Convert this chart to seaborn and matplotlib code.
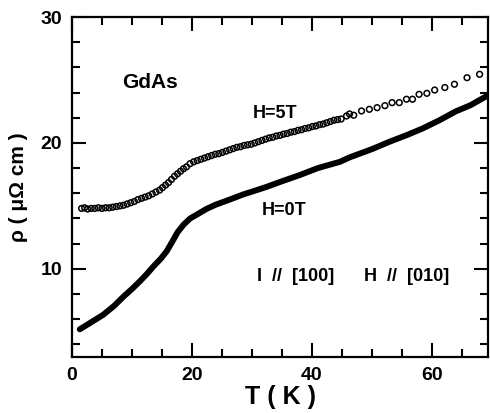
import numpy as np
import pandas as pd
import seaborn as sns
import matplotlib.pyplot as plt
from matplotlib.ticker import MultipleLocator

# H = 0 T curve
t_h0 = [1.3, 3.0, 5.2, 7.0, 8.6, 10.0, 11.3, 12.5, 13.6, 14.8, 15.8, 16.9, 17.6,
        18.6, 19.7, 20.8, 22.4, 24.0, 26.3, 28.5, 30.8, 32.4, 35.0, 38.0, 41.0,
        44.7, 46.3, 50.0, 53.0, 56.0, 58.5, 61.3, 64.0, 66.5, 69.1]
rho_h0 = [5.2, 5.7, 6.35, 7.05, 7.8, 8.4, 9.0, 9.6, 10.2, 10.8, 11.4, 12.3, 12.9,
          13.5, 14.0, 14.3, 14.75, 15.1, 15.5, 15.9, 16.25, 16.5, 16.95, 17.45, 18.0,
          18.5, 18.85, 19.5, 20.1, 20.65, 21.15, 21.8, 22.5, 23.0, 23.7]

# H = 5 T points (open circles)
t_h5 = [1.6, 2.1, 2.6, 3.2, 3.8, 4.4, 5.0, 5.6, 6.2, 6.8, 7.4, 8.0, 8.6, 9.2, 9.8,
        10.4, 11.0, 11.6, 12.2, 12.8, 13.4, 14.0, 14.6, 15.1, 15.6, 16.1, 16.6,
        17.1, 17.6, 18.1, 18.6, 19.1, 19.7, 20.3, 20.9, 21.5, 22.1, 22.7, 23.3,
        23.9, 24.5, 25.1, 25.7, 26.3, 26.9, 27.5, 28.1, 28.7, 29.3, 29.9, 30.5,
        31.1, 31.7, 32.3, 32.9, 33.5, 34.1, 34.7, 35.3, 35.9, 36.5, 37.1, 37.7,
        38.3, 38.9, 39.5, 40.1, 40.7, 41.3, 41.9, 42.5, 43.1, 43.7, 44.3,
        44.9, 45.8, 46.3, 47.0, 48.3, 49.6, 50.9, 52.2, 53.4, 54.6, 55.8, 56.8,
        57.9, 59.2, 60.5, 62.2, 63.8, 65.9, 68.0]
rho_h5 = [14.8, 14.85, 14.75, 14.8, 14.8, 14.85, 14.8, 14.85, 14.85, 14.9, 14.95,
          15.0, 15.05, 15.15, 15.25, 15.35, 15.5, 15.6, 15.7, 15.8, 15.95, 16.1,
          16.25, 16.45, 16.65, 16.85, 17.1, 17.35, 17.55, 17.75, 17.95, 18.1, 18.35,
          18.5, 18.6, 18.7, 18.8, 18.9, 19.0, 19.1, 19.15, 19.25, 19.35, 19.45,
          19.55, 19.65, 19.7, 19.8, 19.85, 19.9, 20.0, 20.1, 20.2, 20.3, 20.4,
          20.45, 20.55, 20.6, 20.7, 20.75, 20.85, 20.9, 21.0, 21.05, 21.15, 21.2,
          21.3, 21.35, 21.45, 21.5, 21.6, 21.7, 21.8, 21.85,
          21.9, 22.14, 22.3, 22.2, 22.54, 22.67, 22.8, 22.96, 23.2, 23.2, 23.47,
          23.47, 23.86, 23.94, 24.2, 24.4, 24.66, 25.18, 25.45]

sns.set_style("ticks")
plt.rcParams['font.family'] = ['Liberation Sans Narrow', 'Liberation Sans', 'DejaVu Sans']
plt.rcParams['font.weight'] = 'bold'
for k in ['text.color', 'axes.labelcolor', 'xtick.color', 'ytick.color', 'axes.edgecolor']:
    plt.rcParams[k] = 'black'

fig = plt.figure(figsize=(4.9, 4.13), dpi=100)
ax = fig.add_axes([72 / 490, 56 / 413, 416 / 490, 340 / 413])

df0 = pd.DataFrame({'T': t_h0, 'rho': rho_h0})
df5 = pd.DataFrame({'T': t_h5, 'rho': rho_h5})

sns.lineplot(data=df0, x='T', y='rho', color='black', linewidth=4.3,
             sort=False, ax=ax, solid_capstyle='round')
sns.scatterplot(data=df5, x='T', y='rho', marker='o', s=17,
                facecolors='none', edgecolor='black', linewidth=1.1, ax=ax)

ax.set_xlim(0, 69.4)
ax.set_ylim(3, 30)
ax.xaxis.set_major_locator(MultipleLocator(20))
ax.xaxis.set_minor_locator(MultipleLocator(5))
ax.yaxis.set_major_locator(MultipleLocator(10))
ax.yaxis.set_minor_locator(MultipleLocator(2))
ax.tick_params(which='both', direction='in', top=True, right=True, width=1.5,
               labelsize=14, pad=7)
ax.tick_params(which='major', length=10)
ax.tick_params(which='minor', length=6)
for s in ax.spines.values():
    s.set_linewidth(1.6)

ax.set_xlabel('T ( K )', fontsize=18, fontweight='bold', labelpad=1)
ax.set_ylabel('ρ ( μΩ cm )', fontsize=15, fontweight='bold', labelpad=9)

ax.text(8.3, 24.8, 'GdAs', fontsize=15, fontweight='bold', va='center')
ax.text(30.2, 22.3, 'H=5T', fontsize=13, fontweight='bold', va='center')
ax.text(31.7, 14.6, 'H=0T', fontsize=13, fontweight='bold', va='center')
ax.text(30.8, 9.4, 'I  //  [100]', fontsize=13, fontweight='bold', va='center')
ax.text(48.7, 9.4, 'H  //  [010]', fontsize=13, fontweight='bold', va='center')

fig.savefig('out.png', dpi=100)
